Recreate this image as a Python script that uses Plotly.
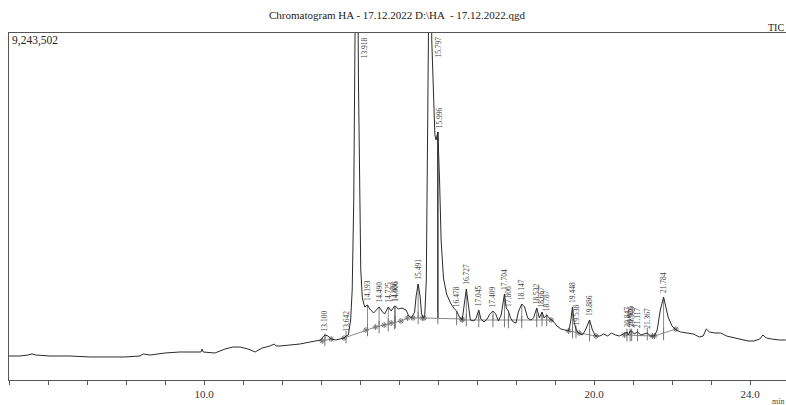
import plotly.graph_objects as go

# ---- chromatogram trace (retention time in min, intensity in thousands of counts) ----
rt_min = [5.00, 5.28, 5.49, 5.59, 5.69, 6.05, 6.56, 7.08, 7.59, 7.97, 8.36, 8.44, 8.62, 9.00, 9.38,
          9.77, 9.92, 9.95, 9.98, 10.28, 10.54, 10.74, 10.92, 11.13, 11.31, 11.49, 11.69, 11.80, 11.85,
          11.95, 12.21, 12.46, 12.72, 12.92, 13.00, 13.05, 13.10, 13.18, 13.26, 13.38, 13.54, 13.59,
          13.642, 13.70, 13.76, 13.80, 13.84, 13.87, 13.918, 13.96, 13.99, 14.02, 14.06, 14.12, 14.193,
          14.25, 14.35, 14.49, 14.58, 14.63, 14.725, 14.80, 14.886, 14.906, 14.98, 15.08, 15.18, 15.25,
          15.32, 15.40, 15.44, 15.491, 15.54, 15.58, 15.62, 15.66, 15.70, 15.74, 15.797, 15.84, 15.88,
          15.92, 15.95, 15.996, 16.04, 16.08, 16.14, 16.22, 16.32, 16.42, 16.478, 16.55, 16.62, 16.67,
          16.727, 16.78, 16.83, 16.92, 16.98, 17.045, 17.10, 17.18, 17.26, 17.33, 17.409, 17.48, 17.55,
          17.62, 17.704, 17.75, 17.806, 17.86, 17.93, 18.00, 18.06, 18.147, 18.22, 18.30, 18.38, 18.45,
          18.532, 18.60, 18.667, 18.72, 18.787, 18.85, 18.95, 19.05, 19.15, 19.25, 19.35, 19.40, 19.448,
          19.49, 19.538, 19.60, 19.70, 19.78, 19.886, 19.96, 20.04, 20.15, 20.25, 20.35, 20.45, 20.55,
          20.65, 20.75, 20.847, 20.88, 20.926, 20.966, 21.03, 21.117, 21.20, 21.28, 21.367, 21.45, 21.55,
          21.62, 21.70, 21.784, 21.84, 21.90, 22.00, 22.10, 22.22, 22.40, 22.55, 22.70, 22.80, 22.88,
          22.96, 23.10, 23.25, 23.40, 23.60, 23.80, 23.95, 24.10, 24.25, 24.33, 24.42, 24.55, 24.75, 24.92]
intensity_k = [639, 639, 666, 693, 666, 639, 639, 613, 613, 613, 639, 693, 666, 719, 746,
               746, 746, 826, 746, 719, 826, 879, 879, 826, 746, 852, 906, 959, 906,
               906, 932, 959, 1012, 1039, 1066, 1145, 1199, 1172, 1092, 1066, 1092, 1119,
               1172, 1199, 1598, 2397, 4795, 7991, 15450, 7991, 4795, 2930, 2184, 1945, 1998,
               1891, 1785, 1945, 1811, 1758, 1945, 1838, 1971, 1971, 1891, 1918, 1865, 1705,
               1652, 1811, 2238, 2557, 2238, 1758, 1652, 1705, 2664, 7459, 14119, 9057, 7592,
               6526, 6393, 6606, 5328, 3729, 2717, 2291, 2051, 1891, 1838, 1678, 1598, 1998,
               2424, 1998, 1598, 1572, 1652, 1865, 1625, 1545, 1625, 1758, 1838, 1758, 1572,
               1731, 2291, 1918, 1838, 1652, 1545, 1518, 1811, 2025, 1945, 1652, 1598, 1652,
               1918, 1652, 1811, 1652, 1731, 1652, 1572, 1438, 1359, 1332, 1305, 1545, 1945,
               1545, 1359, 1252, 1199, 1332, 1598, 1332, 1172, 1172, 1225, 1172, 1252, 1199,
               1172, 1225, 1279, 1199, 1305, 1305, 1225, 1279, 1199, 1225, 1252, 1172, 1172,
               1332, 1865, 2211, 1918, 1678, 1438, 1332, 1279, 1252, 1225, 1145, 1172, 1359,
               1279, 1252, 1252, 1172, 1119, 1066, 1039, 1039, 1092, 1199, 1119, 1092, 1066, 1066]

# ---- integrated peaks ----
peak_rt = [13.100, 13.642, 13.918, 14.193, 14.490, 14.725, 14.886, 14.906, 15.491, 15.797, 15.996,
           16.478, 16.727, 17.045, 17.409, 17.704, 17.806, 18.147, 18.532, 18.667, 18.787, 19.448,
           19.538, 19.886, 20.847, 20.926, 20.966, 21.117, 21.367, 21.784]
peak_label = ["13.100", "13.642", "13.918", "14.193", "14.490", "14.725", "14.886", "14.906", "15.491",
              "15.797", "15.996", "16.478", "16.727", "17.045", "17.409", "17.704", "17.806", "18.147",
              "18.532", "18.667", "18.787", "19.448", "19.538", "19.886", "20.847", "20.926", "20.966",
              "21.117", "21.367", "21.784"]
peak_top_k = [1199, 1172, 15450, 1998, 1945, 1945, 1971, 1971, 2557, 14119, 6606,
              1838, 2424, 1865, 1838, 2291, 1838, 2025, 1918, 1811, 1731, 1945,
              1359, 1598, 1279, 1305, 1305, 1279, 1252, 2211]
peak_base_k = [1066, 1145, None, 1332, 1412, 1465, 1518, 1545, 1652, None, 1652,
               1625, 1598, 1572, 1572, 1572, 1545, 1545, 1572, 1598, 1598, 1279,
               1279, 1199, 1199, 1199, 1199, 1199, 1225, 1225]

# ---- integration baselines (segments separated by None) ----
base_t = [13.03, 13.26, None, 13.59, 14.15, 14.40, 14.62, 14.80, 15.05, 15.22, None,
          15.36, 15.60, None, 15.64, 16.62, None, 16.62, 18.90, None,
          19.35, 19.62, 20.05, None, 20.78, 21.50, None, 21.55, 22.10]
base_k = [1039, 1092, None, 1119, 1332, 1412, 1465, 1518, 1572, 1652, None,
          1652, 1652, None, 1652, 1625, None, 1598, 1598, None,
          1305, 1252, 1172, None, 1199, 1172, None, 1172, 1359]

Y_MAX_K = 9243.502
X_MIN, X_MAX = 5.0, 5.0 + 777 / 39

fig = go.Figure()

# drop lines
drop_x, drop_y = [], []
for t, top, b in zip(peak_rt, peak_top_k, peak_base_k):
    if b is None:
        continue
    drop_x += [t, t, None]
    drop_y += [top, b, None]
fig.add_trace(go.Scatter(x=drop_x, y=drop_y, mode="lines",
                         line=dict(color="#8a8a8a", width=1), hoverinfo="skip"))
# the long dark drop line of 15.996
i996 = peak_rt.index(15.996)
fig.add_trace(go.Scatter(x=[peak_rt[i996], peak_rt[i996]], y=[peak_top_k[i996], peak_base_k[i996]],
                         mode="lines", line=dict(color="#222222", width=1.2), hoverinfo="skip"))

# integration baselines
fig.add_trace(go.Scatter(x=base_t, y=base_k, mode="lines+markers",
                         line=dict(color="#8a8a8a", width=1),
                         marker=dict(symbol="asterisk-open", size=5, color="#777777",
                                     line=dict(width=1, color="#777777")),
                         hoverinfo="skip"))
# base markers at drop lines
mk_x = [t for t, b in zip(peak_rt, peak_base_k) if b is not None]
mk_y = [b for b in peak_base_k if b is not None]
fig.add_trace(go.Scatter(x=mk_x, y=mk_y, mode="markers",
                         marker=dict(symbol="line-ns-open", size=9, color="#777777",
                                     line=dict(width=1, color="#777777")),
                         hoverinfo="skip"))

# chromatogram
fig.add_trace(go.Scatter(x=rt_min, y=intensity_k, mode="lines",
                         line=dict(color="#2b2b2b", width=1), hoverinfo="skip"))

# peak labels
for t, lab, top in zip(peak_rt, peak_label, peak_top_k):
    if top > Y_MAX_K:
        fig.add_annotation(x=t, y=Y_MAX_K, text=lab, textangle=-90, showarrow=False,
                           xanchor="center", yanchor="top", xshift=8, yshift=-2,
                           font=dict(family="Liberation Serif", size=7.5, color="#444444"))
    else:
        fig.add_annotation(x=t, y=top, text=lab, textangle=-90, showarrow=False,
                           xanchor="center", yanchor="bottom", yshift=2,
                           xshift=2 if lab == "15.996" else 0,
                           font=dict(family="Liberation Serif", size=7.5, color="#444444"))

tick_vals = list(range(5, 25))
tick_text = ["10.0" if v == 10 else "20.0" if v == 20 else "24.0" if v == 24 else "" for v in tick_vals]

fig.update_layout(
    width=786, height=405,
    margin=dict(l=9, r=0, t=33, b=25, pad=0),
    paper_bgcolor="white", plot_bgcolor="white",
    showlegend=False,
    xaxis=dict(range=[X_MIN, X_MAX], showgrid=False, zeroline=False, showline=True,
               automargin=False,
               linecolor="#555555", linewidth=1, mirror=True,
               ticks="outside", ticklen=4, tickcolor="#555555", tickwidth=1,
               tickvals=tick_vals, ticktext=tick_text,
               tickfont=dict(family="Liberation Serif", size=11, color="#333333")),
    yaxis=dict(range=[0, Y_MAX_K], showgrid=False, zeroline=False, showline=True,
               automargin=False,
               linecolor="#555555", linewidth=1, showticklabels=False, ticks=""),
)

fig.add_annotation(xref="paper", yref="paper", x=0.5, y=1 + 18 / 347, showarrow=False,
                   text="Chromatogram HA - 17.12.2022 D:\\HA  - 17.12.2022.qgd",
                   xanchor="center", yanchor="middle",
                   font=dict(family="Liberation Serif", size=11, color="#222222"))
fig.add_annotation(xref="paper", yref="paper", x=1.0, y=1 + 5 / 347, showarrow=False,
                   text="TIC", xanchor="right", yanchor="middle",
                   font=dict(family="Liberation Serif", size=10, color="#222222"))
fig.add_annotation(xref="paper", yref="paper", x=0.0015, y=(380 - 40) / 347, showarrow=False,
                   text="9,243,502", xanchor="left", yanchor="middle",
                   font=dict(family="Liberation Serif", size=11.5, color="#222222"))
fig.add_annotation(xref="paper", yref="paper", x=1.0, y=-(401 - 380) / 347, showarrow=False,
                   text="min", xanchor="right", yanchor="middle",
                   font=dict(family="Liberation Serif", size=8, color="#444444"))

fig.write_html("out.html", config={"displayModeBar": False},
               post_script="document.body.style.margin='0';document.body.style.padding='0';")
